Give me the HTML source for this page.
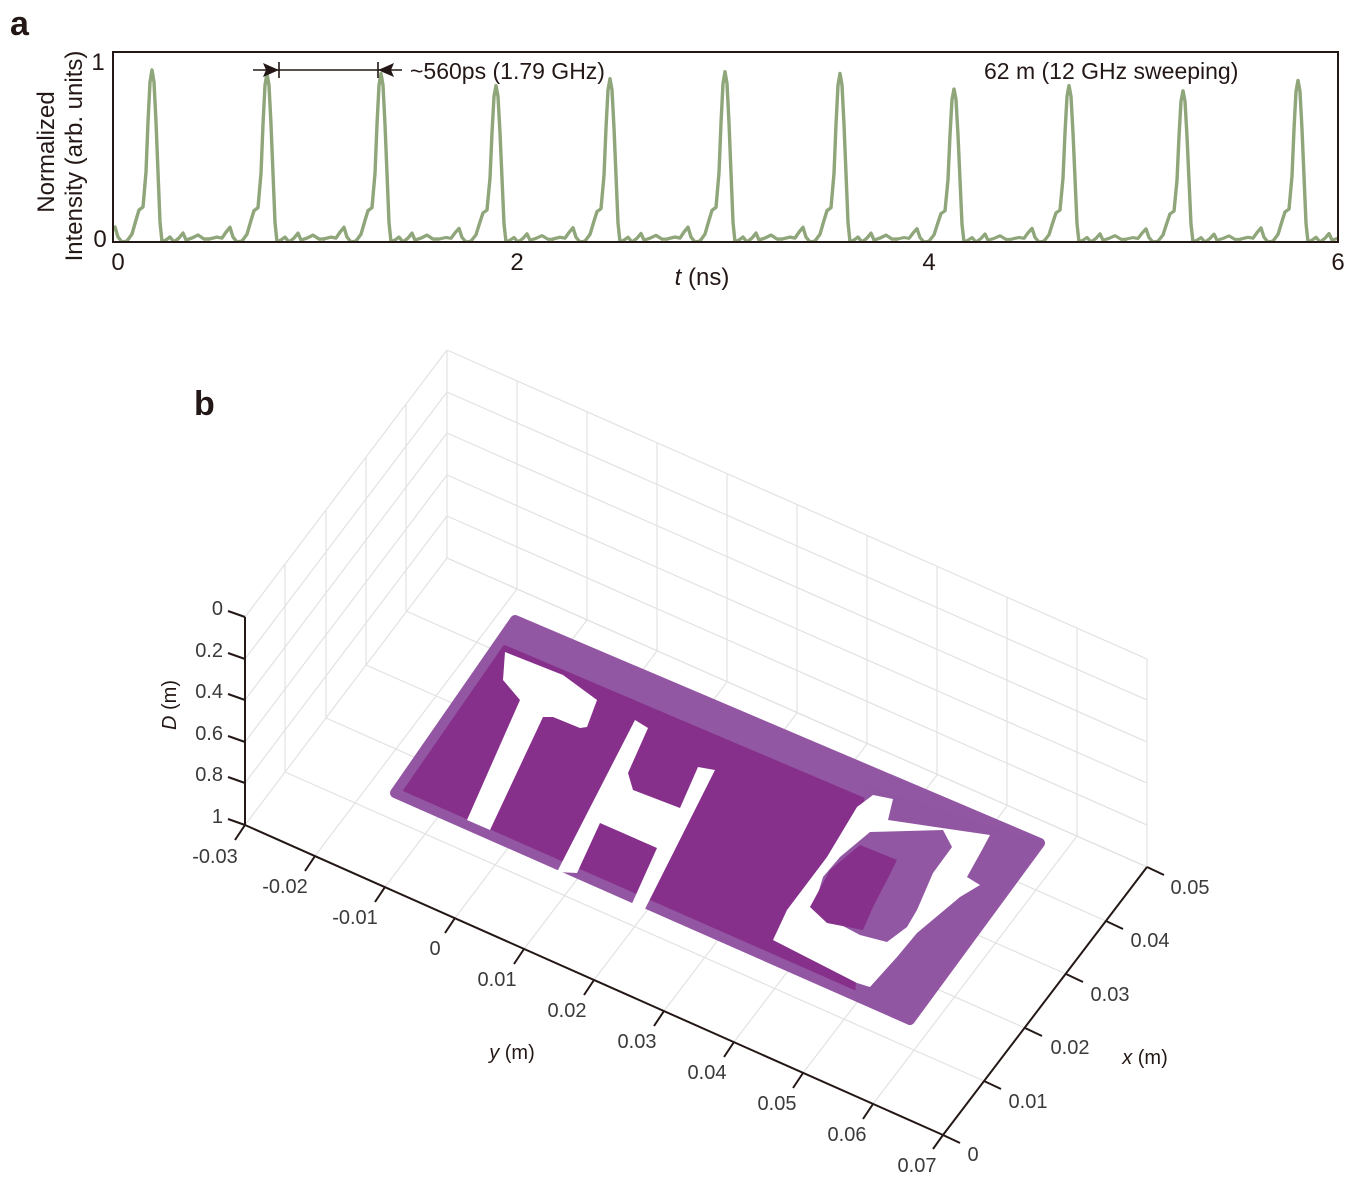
<!DOCTYPE html>
<html><head><meta charset="utf-8"><style>
html,body{margin:0;padding:0;background:#fff}
svg text{font-family:"Liberation Sans",sans-serif}
</style></head><body>
<svg width="1347" height="1179" viewBox="0 0 1347 1179" xmlns="http://www.w3.org/2000/svg">
<defs>
<clipPath id="ax"><rect x="113" y="52" width="1225" height="190"/></clipPath>
<path id="pk" d="M-58,-3 L-50,-5 L-45,-4 L-41,-10 L-37,-15 L-34,-5 L-30,0 L-25,-1 L-20,-8 L-16,-22 L-13,-32 L-9,-35 L-6,-70 L-4,-120 L-2,-160 L0,-172 L2,-160 L4,-120 L6,-70 L8,-20 L10,0 L14,-2 L18,-5 L22,0 L27,-4 L31,-9 L34,-2 L40,-4 L46,-7 L52,-3 L58,-3"/>
</defs>
<text x="10" y="35" font-size="34" font-weight="bold" fill="#231815">a</text>
<g clip-path="url(#ax)" fill="none" stroke="#8fa57a" stroke-width="3.4" stroke-linejoin="round">
<use href="#pk" transform="translate(152,242) scale(1,1.0)"/>
<use href="#pk" transform="translate(267,242) scale(1,0.98)"/>
<use href="#pk" transform="translate(381,242) scale(1,0.98)"/>
<use href="#pk" transform="translate(496,242) scale(1,0.91)"/>
<use href="#pk" transform="translate(610,242) scale(1,0.95)"/>
<use href="#pk" transform="translate(725,242) scale(1,0.99)"/>
<use href="#pk" transform="translate(840,242) scale(1,0.98)"/>
<use href="#pk" transform="translate(954,242) scale(1,0.89)"/>
<use href="#pk" transform="translate(1069,242) scale(1,0.91)"/>
<use href="#pk" transform="translate(1183,242) scale(1,0.88)"/>
<use href="#pk" transform="translate(1298,242) scale(1,0.94)"/>
</g>
<rect x="113" y="52" width="1225" height="190" fill="none" stroke="#231815" stroke-width="2"/>
<text x="98" y="70" font-size="24" fill="#231815" text-anchor="middle">1</text>
<text x="100" y="247" font-size="24" fill="#231815" text-anchor="middle">0</text>
<text x="118" y="270" font-size="24" fill="#231815" text-anchor="middle">0</text>
<text x="517" y="270" font-size="24" fill="#231815" text-anchor="middle">2</text>
<text x="929" y="270" font-size="24" fill="#231815" text-anchor="middle">4</text>
<text x="1338" y="270" font-size="24" fill="#231815" text-anchor="middle">6</text>
<text x="702" y="285" font-size="24" fill="#231815" text-anchor="middle"><tspan font-style="italic">t</tspan> (ns)</text>
<text transform="translate(54,152) rotate(-90)" font-size="24" fill="#231815" text-anchor="middle">Normalized</text>
<text transform="translate(82,156) rotate(-90)" font-size="24" fill="#231815" text-anchor="middle">Intensity (arb. units)</text>
<line x1="253" y1="70" x2="402" y2="70" stroke="#231815" stroke-width="1.6"/>
<line x1="279" y1="62" x2="279" y2="78" stroke="#231815" stroke-width="1.6"/>
<line x1="378" y1="62" x2="378" y2="78" stroke="#231815" stroke-width="1.6"/>
<path d="M279,70 L263,63 L266,70 L263,77 Z" fill="#231815"/>
<path d="M378,70 L394,63 L391,70 L394,77 Z" fill="#231815"/>
<text x="410" y="79" font-size="23" fill="#231815">~560ps (1.79 GHz)</text>
<text x="984" y="79" font-size="23" fill="#231815">62 m (12 GHz sweeping)</text>

<text x="194" y="415" font-size="34" font-weight="bold" fill="#231815">b</text>
<g stroke="#e2e2e2" stroke-width="1.2" fill="none">
<path d="M245,617 L447,350 M245,659 L447,392 M245,700 L447,433 M245,742 L447,475 M245,783 L447,516 M245,825 L447,558"/>
<path d="M285,564 L285,772 M326,511 L326,718 M366,457 L366,665 M406,404 L406,611 M447,350 L447,558"/>
<path d="M447,350 L1147,659 M447,392 L1147,700 M447,433 L1147,742 M447,475 L1147,783 M447,516 L1147,825 M447,558 L1147,867"/>
<path d="M517,381 L517,589 M587,412 L587,620 M657,443 L657,651 M727,474 L727,682 M797,505 L797,713 M867,536 L867,744 M937,567 L937,775 M1007,597 L1007,806 M1077,628 L1077,836 M1147,659 L1147,867"/>
<path d="M285,772 L984,1081 M326,718 L1025,1028 M366,665 L1066,974 M406,611 L1106,921 M447,558 L1147,867"/>
<path d="M315,856 L517,589 M385,887 L587,620 M455,918 L657,651 M524,949 L727,682 M594,980 L797,713 M664,1011 L867,744 M734,1042 L937,775 M803,1073 L1007,806 M873,1104 L1077,836"/>
</g>
<g>
<path d="M395,793 L515,620 L1040,843 L910,1020 Z" fill="#86308b" stroke="#9256a2" stroke-width="10" stroke-linejoin="round"/>
<path d="M512,617 L1042,840 L1025,866 L500,643 Z" fill="#9257a3"/>
<path d="M865,785 L1042,842 L910,1022 L855,1000 Z" fill="#9056a2"/>
<path d="M505,652 L563,675 L597,700 L587,727 L580,728 L553,717 L543,717 L490,830 L467,820 L520,700 L503,680 Z" fill="#fff"/>
<path d="M635,720 L648,728 L628,773 L633,790 L680,808 L698,767 L715,770 L643,913 L630,908 L657,848 L600,823 L577,873 L557,872 Z" fill="#fff"/>
<path d="M873,795 L893,799 L888,820 L942,828 L990,835 L982,850 L967,877 L980,885 L960,897 L917,933 L897,957 L870,987 L857,983 L773,940 L787,910 L827,857 L857,807 Z" fill="#fff"/>
<path d="M870,832 L943,830 L952,847 L933,873 L917,910 L907,927 L887,942 L860,935 L813,910 L823,877 L840,857 Z" fill="#9257a3"/>
<path d="M860,845 L897,860 L887,880 L873,907 L863,930 L827,923 L810,907 L830,870 Z" fill="#86308b"/>
</g>
<g stroke="#231815" stroke-width="2" fill="none">
<line x1="245" y1="617" x2="245" y2="825"/>
<line x1="245" y1="825" x2="943" y2="1135"/>
<line x1="943" y1="1135" x2="1147" y2="867"/>
<line x1="943" y1="1135" x2="933" y2="1149"/>
<path d="M245,617 L228,611 M245,659 L228,653 M245,700 L228,694 M245,742 L228,736 M245,783 L228,777 M245,825 L228,819"/>
<path d="M245,825 L235,840 M315,856 L305,871 M385,887 L375,902 M455,918 L445,933 M524,949 L514,964 M594,980 L584,995 M664,1011 L654,1026 M734,1042 L724,1057 M803,1073 L793,1088 M873,1104 L863,1119"/>
<path d="M943,1135 L960,1143 M984,1081 L1001,1089 M1025,1028 L1042,1036 M1066,974 L1083,982 M1106,921 L1123,929 M1147,867 L1164,875"/>
</g>
<g font-size="20" fill="#3a3a3a">
<g text-anchor="end">
<text x="223" y="615">0</text><text x="223" y="657">0.2</text><text x="223" y="698">0.4</text><text x="223" y="740">0.6</text><text x="223" y="781">0.8</text><text x="223" y="823">1</text>
</g>
<g text-anchor="middle">
<text x="215" y="863">-0.03</text><text x="285" y="893">-0.02</text><text x="355" y="924">-0.01</text><text x="435" y="955">0</text><text x="497" y="986">0.01</text><text x="567" y="1017">0.02</text><text x="637" y="1048">0.03</text><text x="707" y="1079">0.04</text><text x="777" y="1110">0.05</text><text x="847" y="1141">0.06</text><text x="917" y="1172">0.07</text>
<text x="973" y="1161">0</text><text x="1028" y="1108">0.01</text><text x="1070" y="1054">0.02</text><text x="1110" y="1001">0.03</text><text x="1150" y="947">0.04</text><text x="1190" y="894">0.05</text>
</g>
<text x="512" y="1059" text-anchor="middle" fill="#231815"><tspan font-style="italic">y</tspan> (m)</text>
<text x="1145" y="1064" text-anchor="middle" fill="#231815"><tspan font-style="italic">x</tspan> (m)</text>
<text transform="translate(176,705) rotate(-90)" text-anchor="middle" fill="#231815"><tspan font-style="italic">D</tspan> (m)</text>
</g>
</svg>
</body></html>
